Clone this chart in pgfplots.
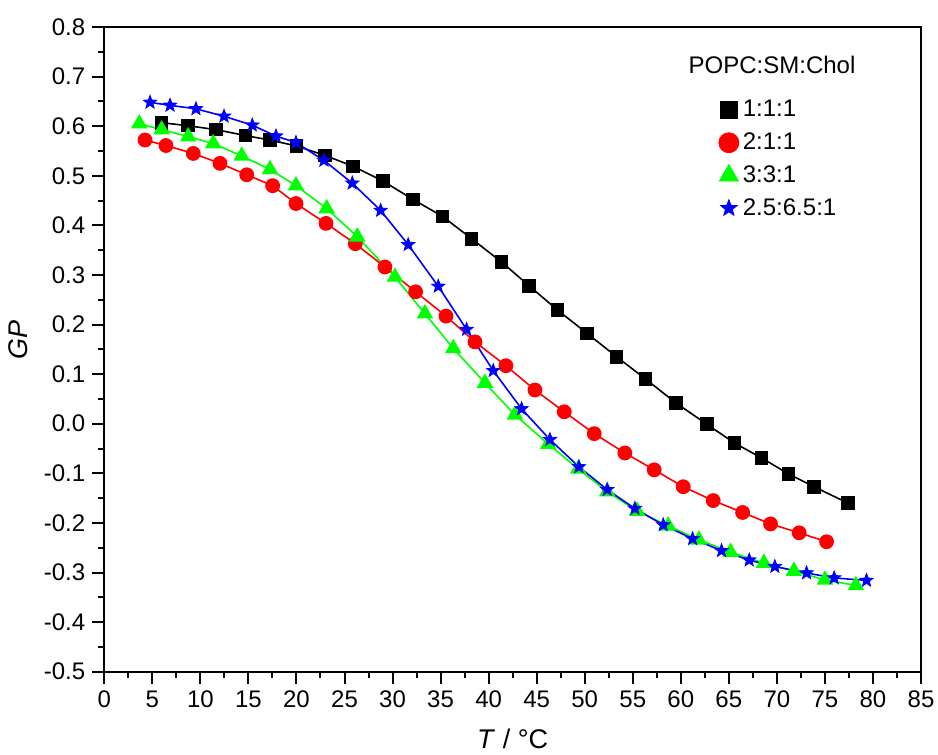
\documentclass[border=0pt]{standalone}
\usepackage{fontspec}
\setmainfont{Liberation Sans}
\usepackage{pgfplots}
\pgfplotsset{compat=1.18}
\usetikzlibrary{calc}

% filled five-pointed star, as drawn by Origin
\pgfdeclareplotmark{fstar}{%
  \pgfpathmoveto{\pgfpointpolar{90}{\pgfplotmarksize}}%
  \pgfpathlineto{\pgfpointpolar{126}{0.42\pgfplotmarksize}}%
  \pgfpathlineto{\pgfpointpolar{162}{\pgfplotmarksize}}%
  \pgfpathlineto{\pgfpointpolar{198}{0.42\pgfplotmarksize}}%
  \pgfpathlineto{\pgfpointpolar{234}{\pgfplotmarksize}}%
  \pgfpathlineto{\pgfpointpolar{270}{0.42\pgfplotmarksize}}%
  \pgfpathlineto{\pgfpointpolar{306}{\pgfplotmarksize}}%
  \pgfpathlineto{\pgfpointpolar{342}{0.42\pgfplotmarksize}}%
  \pgfpathlineto{\pgfpointpolar{18}{\pgfplotmarksize}}%
  \pgfpathlineto{\pgfpointpolar{54}{0.42\pgfplotmarksize}}%
  \pgfpathclose
  \pgfusepathqfillstroke
}

% GP vs temperature, POPC:SM:Chol mixtures
\pgfplotstableread{
T GP
5.97 0.607
8.68 0.601
11.62 0.593
14.71 0.581
17.24 0.572
20.02 0.560
22.97 0.541
25.91 0.519
29.03 0.489
32.15 0.452
35.21 0.418
38.23 0.373
41.35 0.326
44.22 0.278
47.18 0.229
50.26 0.182
53.32 0.135
56.34 0.090
59.49 0.042
62.70 -0.001
65.60 -0.039
68.40 -0.069
71.20 -0.101
73.85 -0.127
77.40 -0.160
}\ratioA
\pgfplotstableread{
T GP
4.24 0.572
6.42 0.561
9.26 0.545
12.04 0.525
14.82 0.502
17.52 0.480
19.95 0.444
23.07 0.404
26.12 0.363
29.21 0.316
32.40 0.266
35.56 0.217
38.58 0.165
41.80 0.117
44.82 0.068
47.87 0.024
50.99 -0.020
54.18 -0.059
57.23 -0.093
60.25 -0.127
63.37 -0.155
66.43 -0.179
69.34 -0.202
72.32 -0.220
75.17 -0.238
}\ratioB
\pgfplotstableread{
T GP
3.64 0.605
5.97 0.593
8.74 0.579
11.34 0.565
14.30 0.540
17.24 0.513
19.95 0.480
23.14 0.434
26.33 0.377
30.25 0.296
33.37 0.222
36.32 0.152
39.62 0.082
42.74 0.018
46.20 -0.041
49.33 -0.091
52.34 -0.137
55.46 -0.176
58.69 -0.206
61.88 -0.234
65.18 -0.259
68.65 -0.281
71.77 -0.297
75.00 -0.315
78.22 -0.326
}\ratioC
\pgfplotstableread{
T GP
4.76 0.648
6.84 0.642
9.54 0.635
12.46 0.620
15.40 0.602
17.87 0.580
19.95 0.567
22.86 0.531
25.81 0.485
28.76 0.430
31.63 0.361
34.76 0.277
37.71 0.190
40.48 0.107
43.43 0.030
46.38 -0.032
49.40 -0.087
52.34 -0.133
55.22 -0.171
58.17 -0.204
61.23 -0.232
64.24 -0.256
67.12 -0.275
69.79 -0.288
73.09 -0.301
75.96 -0.311
79.33 -0.316
}\ratioD

\begin{document}
\begin{tikzpicture}[font=\fontsize{12}{14}\selectfont]
\begin{axis}[
  scale only axis, width=408.35pt, height=322.35pt,
  xmin=0, xmax=85, ymin=-0.5, ymax=0.8,
  xtick={0,5,...,85},
  ytick={-0.5,-0.4,-0.3,-0.2,-0.1,0,0.1,0.2,0.3,0.4,0.5,0.6,0.7,0.8},
  minor x tick num=1, minor y tick num=1,
  xtick pos=bottom, ytick pos=left, tick align=outside,
  major tick length=6pt, minor tick length=3pt,
  tick style={line width=1pt, black},
  axis line style={line width=1.1pt},
  /pgf/number format/assume math mode=true,
  yticklabel style={/pgf/number format/.cd, fixed, fixed zerofill, precision=1},
  xlabel={\textit{T} / °C}, ylabel={\textit{GP}},
  label style={font=\fontsize{13.5}{16}\selectfont},
  xlabel style={at={(axis description cs:0.5,-0.1035)}, anchor=center},
  ylabel style={at={(axis description cs:-0.105,0.514)}, anchor=center},
  legend image code/.code={\draw[#1] plot coordinates {(0.15cm,0cm)};},
  legend style={at={(rel axis cs:0.752,0.893)}, anchor=north west,
    draw=none, fill=none, row sep=2.5pt, inner sep=0pt,
    /tikz/every even column/.append style={column sep=5pt}},
  legend cell align=left,
]
\addplot[black, line width=0.8pt, mark=square*, mark size=3pt, forget plot] table {\ratioA};
\addplot[red, line width=0.8pt, mark=*, mark size=3.3pt, forget plot] table {\ratioB};
\addplot[green, line width=0.8pt, mark=triangle*, mark size=4pt, forget plot] table {\ratioC};
\addplot[blue, line width=0.8pt, mark=fstar, mark size=3.5pt, mark options={fill=blue, line width=0.4pt}, forget plot] table {\ratioD};
\addlegendimage{only marks, black, mark=square*, mark size=4.3pt}
\addlegendentry{1:1:1}
\addlegendimage{only marks, red, mark=*, mark size=5pt}
\addlegendentry{2:1:1}
\addlegendimage{only marks, green, mark=triangle*, mark size=5.5pt}
\addlegendentry{3:3:1}
\addlegendimage{only marks, blue, mark=fstar, mark size=4.3pt, mark options={fill=blue, line width=0.4pt}}
\addlegendentry{2.5:6.5:1}
\node[anchor=west, inner sep=0pt] at (rel axis cs:0.715,0.941) {POPC:SM:Chol};
\coordinate (bl) at (rel axis cs:0,0);
\coordinate (tr) at (rel axis cs:1,1);
\end{axis}
\pgfresetboundingbox
\path ($(bl)+(-52.15pt,-41.65pt)$) rectangle ($(tr)+(8.5pt,13.5pt)$);
\end{tikzpicture}
\end{document}
